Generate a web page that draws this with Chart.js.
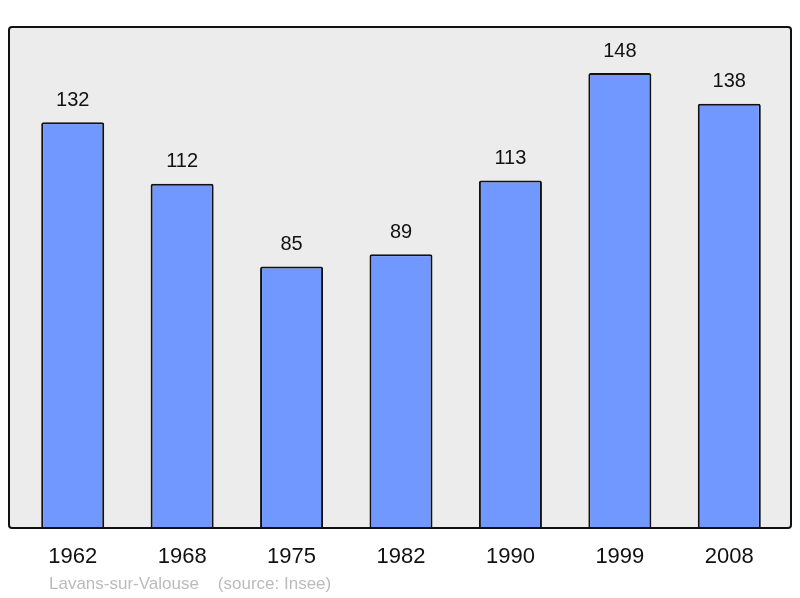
<!DOCTYPE html>
<html>
<head>
<meta charset="utf-8">
<script src="https://cdn.jsdelivr.net/npm/chart.js@4/dist/chart.umd.min.js"></script>
<style>
  html, body { margin: 0; padding: 0; background: #fff; }
  #wrap { width: 800px; height: 598px; }
</style>
</head>
<body>
<div id="wrap"><canvas id="c"></canvas></div>
<script>
const years = ["1962", "1968", "1975", "1982", "1990", "1999", "2008"];
const population = [132, 112, 85, 89, 113, 148, 138];
const yMax = 163;
const footer = "Lavans-sur-Valouse    (source: Insee)";

// frame behind the bars + footer text
const framePlugin = {
    id: "frame",
    beforeDraw(chart) {
        const ctx = chart.ctx;
        ctx.save();
        ctx.beginPath();
        ctx.roundRect(9, 27, 782, 501, 3);
        ctx.fillStyle = "#ececec";
        ctx.fill();
        ctx.restore();
    },
    afterDatasetsDraw(chart) {
        const ctx = chart.ctx;
        ctx.save();
        ctx.beginPath();
        ctx.roundRect(9, 27, 782, 501, 3);
        ctx.lineWidth = 2;
        ctx.strokeStyle = "#111";
        ctx.stroke();
        ctx.fillStyle = "#bbbbbb";
        ctx.font = "17px 'Liberation Sans', Arial, sans-serif";
        ctx.textBaseline = "middle";
        ctx.fillText(footer, 49, 584);
        ctx.restore();
    }
};

// value labels over the bars
const valuePlugin = {
    id: "values",
    afterDatasetsDraw(chart) {
        const ctx = chart.ctx;
        const meta = chart.getDatasetMeta(0);
        ctx.save();
        ctx.fillStyle = "#111";
        ctx.font = "20px 'Liberation Sans', Arial, sans-serif";
        ctx.textAlign = "center";
        ctx.textBaseline = "middle";
        meta.data.forEach((bar, i) => {
            ctx.fillText(population[i], bar.x, bar.y - 22);
        });
        ctx.restore();
    }
};

new Chart(document.getElementById("c"), {
    type: "bar",
    data: {
        labels: years,
        datasets: [{
            data: population,
            backgroundColor: "#7098ff",
            borderColor: "#111",
            borderWidth: 2,
            borderRadius: { topLeft: 2, topRight: 2 },
            borderSkipped: "bottom",
            barPercentage: 0.576,
            categoryPercentage: 1
        }]
    },
    options: {
        responsive: true,
        maintainAspectRatio: false,
        animation: false,
        layout: { padding: { left: 18, right: 16, top: 27, bottom: 12 } },
        plugins: { legend: { display: false }, tooltip: { enabled: false } },
        scales: {
            x: {
                grid: { display: false, drawTicks: false },
                border: { display: false },
                ticks: {
                    padding: 16,
                    color: "#111",
                    font: { size: 22, family: "'Liberation Sans', Arial, sans-serif" }
                }
            },
            y: {
                display: false,
                min: 0,
                max: yMax
            }
        }
    },
    plugins: [framePlugin, valuePlugin]
});
</script>
</body>
</html>
